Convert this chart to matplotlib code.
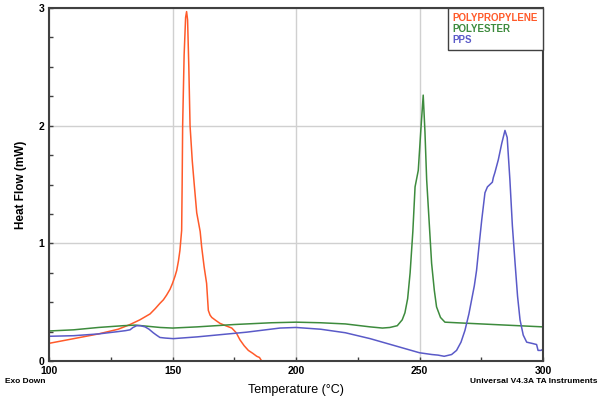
import numpy as np
import matplotlib.pyplot as plt
from matplotlib.ticker import MultipleLocator

plt.rcParams['font.family'] = ['Liberation Sans', 'DejaVu Sans']

# polypropylene (orange)
pp_t = [100, 110, 120, 128, 132.8, 136.8, 140.9, 143, 144.9, 146.3, 147.6, 149, 150, 151, 151.7,
        152.4, 153, 153.7, 153.9, 154.1, 154.7, 155.3, 155.7, 156.1, 156.6, 157.1, 158.0, 158.8,
        159.8, 160.5, 161.2, 161.8, 162.8, 163.8, 164.5, 165.2, 165.9, 167.5, 169.2, 171.5, 174,
        175.8, 177.3, 179, 180.7, 182.5, 184.1, 185.2, 186.1]
pp_y = [0.15, 0.19, 0.23, 0.27, 0.31, 0.35, 0.40, 0.445, 0.49, 0.52, 0.56, 0.61, 0.66, 0.72, 0.77,
        0.85, 0.94, 1.11, 1.5, 2.0, 2.6, 2.92, 2.97, 2.9, 2.5, 2.0, 1.7, 1.5,
        1.26, 1.18, 1.1, 0.97, 0.8, 0.66, 0.43, 0.39, 0.37, 0.345, 0.32, 0.3, 0.28,
        0.24, 0.18, 0.13, 0.09, 0.065, 0.04, 0.03, 0.0]

# polyester (green)
pe_t = [100, 110, 120, 130, 135, 140, 145, 150, 160, 175, 190, 200, 210, 220, 230, 235, 238, 241,
        243, 244.1, 245.2, 246.2, 247.3, 248.2, 249.5, 250.5, 251.5, 252.2, 252.9, 254.0, 254.9,
        256.0, 256.9, 258.5, 260.3, 265, 270, 280, 290, 300]
pe_y = [0.255, 0.265, 0.285, 0.3, 0.305, 0.295, 0.285, 0.28, 0.29, 0.31, 0.325, 0.33, 0.325, 0.315,
        0.29, 0.28, 0.285, 0.30, 0.35, 0.41, 0.53, 0.75, 1.1, 1.48, 1.62, 1.95, 2.26, 1.95,
        1.54, 1.15, 0.83, 0.6, 0.46, 0.37, 0.33, 0.325, 0.32, 0.31, 0.30, 0.29]

# pps (blue)
ps_t = [100, 110, 120, 128, 131, 132.8, 134, 135.5, 137, 138.9, 140.5, 142.2, 143.5, 144.9, 147,
        150.3, 160, 170, 180, 193.5, 200, 210, 220, 230, 240, 250, 255, 257.5, 260, 263, 265, 266.8,
        268.4, 270, 271.1, 272.2, 273.1, 274.2, 275.2, 276.5, 277.5, 278.5, 279.5, 279.9, 280.5,
        281.9, 283.3, 284.6, 285.5, 286.6, 287.6, 288.7, 289.7, 290.7, 292, 293.4, 295.5, 297.4,
        298, 299.2, 300]
ps_y = [0.21, 0.215, 0.23, 0.25, 0.258, 0.265, 0.285, 0.30, 0.30, 0.29, 0.27, 0.24, 0.22, 0.2,
        0.195, 0.19, 0.205, 0.225, 0.245, 0.28, 0.285, 0.27, 0.24, 0.19, 0.13, 0.07, 0.055, 0.05,
        0.04, 0.055, 0.09, 0.16, 0.26, 0.4, 0.52, 0.64, 0.77, 1.0, 1.2, 1.43, 1.48, 1.5, 1.52,
        1.56, 1.6, 1.71, 1.85, 1.96, 1.9, 1.54, 1.15, 0.83, 0.55, 0.35, 0.22, 0.16, 0.15, 0.14,
        0.09, 0.09, 0.1]

fig = plt.figure(figsize=(6, 3.97), dpi=100)
ax = fig.add_axes([0.0817, 0.0907, 0.8233, 0.889])

ax.plot(pp_t, pp_y, color='#ff5a2a', lw=1.1, label='POLYPROPYLENE')
ax.plot(pe_t, pe_y, color='#3d8b3d', lw=1.1, label='POLYESTER')
ax.plot(ps_t, ps_y, color='#5a5ac8', lw=1.1, label='PPS')

ax.set_xlim(100, 300)
ax.set_ylim(0, 3)
ax.xaxis.set_major_locator(MultipleLocator(50))
ax.xaxis.set_minor_locator(MultipleLocator(25))
ax.yaxis.set_major_locator(MultipleLocator(1))
ax.yaxis.set_minor_locator(MultipleLocator(0.25))
ax.grid(True, which='major', color='#d0d0d0', lw=1)
ax.set_axisbelow(True)
for s in ax.spines.values():
    s.set_color('#404040')
    s.set_linewidth(1.5)
ax.tick_params(which='both', direction='in', length=3, width=1, colors='#404040',
               labelcolor='black', labelsize=7.5)
for lab in ax.get_xticklabels() + ax.get_yticklabels():
    lab.set_fontweight('bold')

ax.set_xlabel('Temperature (°C)', fontsize=9, labelpad=6)
ax.set_ylabel('Heat Flow (mW)', fontsize=8.5, fontweight='bold', labelpad=8)

leg = ax.legend(loc='upper right', handlelength=0, handletextpad=0, fancybox=False,
                borderaxespad=0, labelcolor='linecolor', fontsize=7, framealpha=1,
                borderpad=0.5, labelspacing=0.1)
for h in leg.legend_handles:
    h.set_visible(False)
leg.get_frame().set_edgecolor('#404040')
leg.get_frame().set_linewidth(1)
for t in leg.get_texts():
    t.set_fontweight('bold')

fig.text(0.008, 0.035, 'Exo Down', fontsize=6, fontweight='bold')
fig.text(0.995, 0.035, 'Universal V4.3A TA Instruments', fontsize=6, fontweight='bold', ha='right')

fig.savefig('out.png', dpi=100)
